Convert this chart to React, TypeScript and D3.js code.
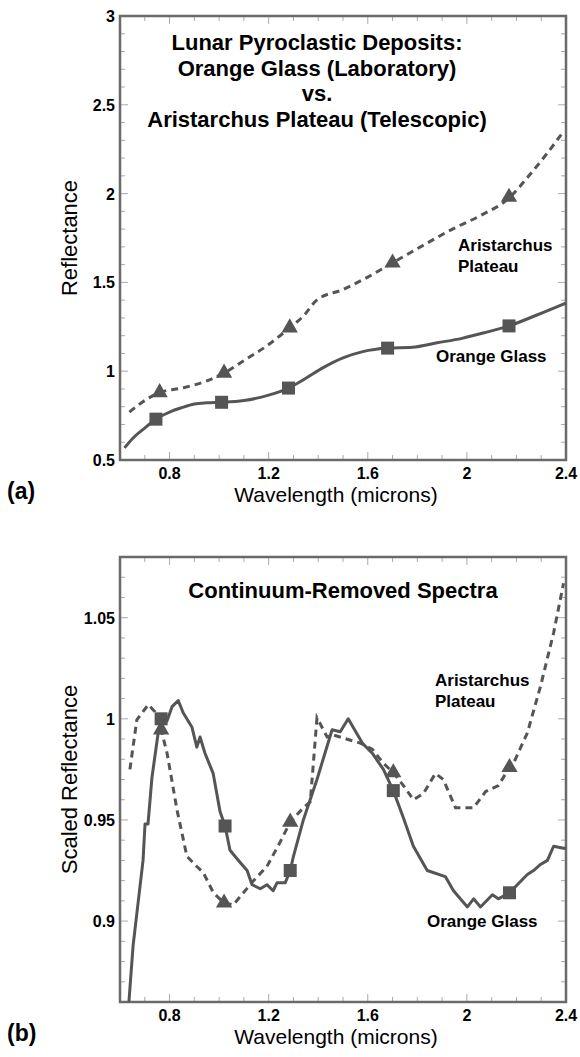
import React from 'react';
import * as d3 from 'd3';

type Pt = [number, number];

// panel (a): reflectance spectra
const glassA: Pt[] = [
  [0.618, 0.568], [0.65, 0.62], [0.7, 0.68], [0.745, 0.73], [0.8, 0.77], [0.85, 0.795],
  [0.9, 0.815], [0.95, 0.822], [1.01, 0.825], [1.1, 0.835], [1.2, 0.865], [1.28, 0.905],
  [1.35, 0.96], [1.42, 1.02], [1.5, 1.075], [1.58, 1.11], [1.68, 1.13], [1.78, 1.135],
  [1.88, 1.16], [1.98, 1.185], [2.08, 1.22], [2.17, 1.255], [2.28, 1.315], [2.4, 1.384],
];
const platA: Pt[] = [
  [0.638, 0.77], [0.7, 0.835], [0.76, 0.88], [0.85, 0.905], [0.95, 0.945], [1.02, 0.99],
  [1.1, 1.06], [1.2, 1.15], [1.285, 1.245], [1.34, 1.31], [1.394, 1.4], [1.5, 1.46],
  [1.6, 1.53], [1.7, 1.61], [1.8, 1.69], [1.95, 1.806], [2.06, 1.88], [2.17, 1.975],
  [2.25, 2.1], [2.32, 2.22], [2.39, 2.35],
];
const glassAMarks: Pt[] = [[0.745, 0.73], [1.01, 0.825], [1.28, 0.905], [1.68, 1.13], [2.17, 1.255]];
const platAMarks: Pt[] = [[0.76, 0.88], [1.02, 0.99], [1.285, 1.245], [1.7, 1.61], [2.17, 1.98]];

// panel (b): continuum-removed spectra
const glassB: Pt[] = [
  [0.636, 0.86], [0.645, 0.875], [0.653, 0.888], [0.693, 0.93], [0.701, 0.948], [0.713, 0.948],
  [0.729, 0.971], [0.754, 0.993], [0.766, 1.0], [0.79, 0.999], [0.81, 1.006], [0.835, 1.009],
  [0.855, 1.003], [0.89, 0.996], [0.91, 0.986], [0.923, 0.991], [0.943, 0.983], [0.976, 0.973],
  [1.004, 0.954], [1.024, 0.947], [1.044, 0.935], [1.085, 0.929], [1.113, 0.925], [1.133, 0.918],
  [1.166, 0.916], [1.193, 0.918], [1.218, 0.915], [1.234, 0.919], [1.267, 0.919], [1.287, 0.925],
  [1.3, 0.932], [1.34, 0.95], [1.395, 0.97], [1.456, 0.9946], [1.489, 0.9936], [1.521, 1.0],
  [1.578, 0.988], [1.618, 0.983], [1.663, 0.975], [1.703, 0.9645], [1.744, 0.951], [1.784, 0.937],
  [1.84, 0.925], [1.913, 0.922], [1.946, 0.915], [2.002, 0.907], [2.027, 0.911], [2.055, 0.907],
  [2.103, 0.913], [2.127, 0.911], [2.172, 0.914], [2.244, 0.923], [2.269, 0.925], [2.297, 0.928],
  [2.325, 0.93], [2.35, 0.937], [2.39, 0.936], [2.4, 0.936],
];
const platB: Pt[] = [
  [0.64, 0.975], [0.668, 0.9995], [0.714, 1.007], [0.741, 1.0035], [0.766, 0.9946], [0.79, 0.983],
  [0.83, 0.955], [0.87, 0.932], [0.91, 0.927], [0.936, 0.924], [0.977, 0.914], [1.02, 0.909],
  [1.057, 0.908], [1.139, 0.92], [1.193, 0.927], [1.246, 0.939], [1.287, 0.949], [1.34, 0.956],
  [1.368, 0.959], [1.395, 1.0005], [1.436, 0.991], [1.46, 0.992], [1.57, 0.988], [1.618, 0.985],
  [1.663, 0.978], [1.703, 0.9734], [1.744, 0.967], [1.784, 0.96], [1.824, 0.963], [1.873, 0.973],
  [1.905, 0.97], [1.954, 0.956], [2.027, 0.956], [2.075, 0.964], [2.127, 0.967], [2.172, 0.976],
  [2.188, 0.978], [2.244, 0.993], [2.297, 1.016], [2.35, 1.0425], [2.39, 1.067],
];
const glassBMarks: Pt[] = [[0.766, 1.0], [1.024, 0.947], [1.287, 0.925], [1.703, 0.9645], [2.172, 0.914]];
const platBMarks: Pt[] = [[0.766, 0.9946], [1.02, 0.909], [1.287, 0.949], [1.703, 0.9734], [2.172, 0.976]];

const xTicks = [0.8, 1.2, 1.6, 2, 2.4];
const yTicksA = [0.5, 1, 1.5, 2, 2.5, 3];
const yTicksB = [0.9, 0.95, 1, 1.05];

const titleA = [
  'Lunar Pyroclastic Deposits:',
  'Orange Glass (Laboratory)',
  'vs.',
  'Aristarchus Plateau (Telescopic)',
];
const titleB = ['Continuum-Removed Spectra'];

const FONT = 'Arial, "Liberation Sans", sans-serif';
const INK = '#555';
const FRAME = '#6a6a6a';

interface PanelProps {
  top: number;
  bottom: number;
  yDomain: [number, number];
  yTicks: number[];
  yMinorStep: number;
  yLabel: string;
  tag: string;
  title: string[];
  titleX: number;
  titleY: number;
  glass: Pt[];
  plat: Pt[];
  glassMarks: Pt[];
  platMarks: Pt[];
  curve: d3.CurveFactory;
  platLabel: [number, number];
  glassLabel: [number, number];
}

function Panel(p: PanelProps) {
  const left = 120;
  const right = 566;
  const x = d3.scaleLinear().domain([0.6, 2.4]).range([left, right]);
  const y = d3.scaleLinear().domain(p.yDomain).range([p.bottom, p.top]);
  const line = d3.line<Pt>().x(d => x(d[0])).y(d => y(d[1])).curve(p.curve);

  const xMinor = d3.range(0.6, 2.4001, 0.1);
  const yMinor = d3.range(p.yDomain[0], p.yDomain[1] + 1e-6, p.yMinorStep);
  const tri = d3.symbol(d3.symbolTriangle, 115)();

  return (
    <g fontFamily={FONT}>
      {xMinor.map((v, i) => {
        const major = xTicks.some(t => Math.abs(t - v) < 1e-6);
        const len = major ? 8 : 5;
        return (
          <g key={'xm' + i} stroke="#aaa" strokeWidth={1}>
            <line x1={x(v)} x2={x(v)} y1={p.bottom} y2={p.bottom - len} />
            <line x1={x(v)} x2={x(v)} y1={p.top} y2={p.top + len} />
          </g>
        );
      })}
      {yMinor.map((v, i) => {
        const major = p.yTicks.some(t => Math.abs(t - v) < 1e-6);
        const len = major ? 8 : 5;
        return (
          <g key={'ym' + i} stroke="#aaa" strokeWidth={1}>
            <line x1={left} x2={left + len} y1={y(v)} y2={y(v)} />
            <line x1={right} x2={right - len} y1={y(v)} y2={y(v)} />
          </g>
        );
      })}
      <rect x={left} y={p.top} width={right - left} height={p.bottom - p.top}
        fill="none" stroke={FRAME} strokeWidth={2.5} />

      {xTicks.map(t => (
        <text key={'xt' + t} x={x(t)} y={p.bottom + 19} textAnchor="middle"
          fontSize={16} fontWeight="bold">{d3.format('~g')(t)}</text>
      ))}
      {p.yTicks.map(t => (
        <text key={'yt' + t} x={left - 5} y={y(t) + 6} textAnchor="end"
          fontSize={16} fontWeight="bold">{d3.format('~g')(t)}</text>
      ))}

      <text x={336} y={p.bottom + 42} textAnchor="middle" fontSize={21}>Wavelength (microns)</text>
      <text transform={`translate(77,${(p.top + p.bottom) / 2}) rotate(-90)`} textAnchor="middle"
        fontSize={22}>{p.yLabel}</text>
      <text x={7} y={p.bottom + 39} fontSize={23} fontWeight="bold">{p.tag}</text>

      {p.title.map((s, i) => (
        <text key={'ti' + i} x={p.titleX} y={p.titleY + i * 25.5} textAnchor="middle"
          fontSize={22} fontWeight="bold">{s}</text>
      ))}

      <path d={line(p.glass) || ''} fill="none" stroke={INK} strokeWidth={3} strokeLinejoin="round" />
      <path d={line(p.plat) || ''} fill="none" stroke={INK} strokeWidth={3} strokeDasharray="7,5" />

      {p.glassMarks.map((d, i) => (
        <rect key={'sq' + i} x={x(d[0]) - 6.5} y={y(d[1]) - 6.5} width={13} height={13} fill={INK} />
      ))}
      {p.platMarks.map((d, i) => (
        <path key={'tr' + i} d={tri || ''} transform={`translate(${x(d[0])},${y(d[1])})`} fill={INK} />
      ))}

      <text x={p.platLabel[0]} y={p.platLabel[1]} fontSize={17} fontWeight="bold">
        <tspan x={p.platLabel[0]}>Aristarchus</tspan>
        <tspan x={p.platLabel[0]} dy={21}>Plateau</tspan>
      </text>
      <text x={p.glassLabel[0]} y={p.glassLabel[1]} fontSize={17} fontWeight="bold">Orange Glass</text>
    </g>
  );
}

export default function App() {
  return (
    <svg width={580} height={1057} style={{ position: 'absolute', left: 0, top: 0, background: '#fff' }}>
      <Panel
        top={16} bottom={460}
        yDomain={[0.5, 3]} yTicks={yTicksA} yMinorStep={0.1}
        yLabel="Reflectance" tag="(a)"
        title={titleA} titleX={317} titleY={50}
        glass={glassA} plat={platA} glassMarks={glassAMarks} platMarks={platAMarks}
        curve={d3.curveMonotoneX}
        platLabel={[458, 251]} glassLabel={[436, 362]}
      />
      <Panel
        top={557} bottom={1002}
        yDomain={[0.86, 1.08]} yTicks={yTicksB} yMinorStep={0.01}
        yLabel="Scaled Reflectance" tag="(b)"
        title={titleB} titleX={343} titleY={598}
        glass={glassB} plat={platB} glassMarks={glassBMarks} platMarks={platBMarks}
        curve={d3.curveLinear}
        platLabel={[435, 686]} glassLabel={[427, 927]}
      />
    </svg>
  );
}
